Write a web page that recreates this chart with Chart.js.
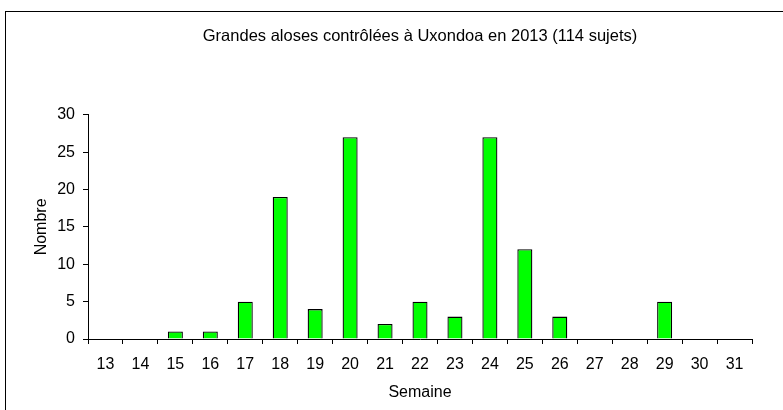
<!DOCTYPE html>
<html>
<head>
<meta charset="utf-8">
<script src="https://cdn.jsdelivr.net/npm/chart.js@4/dist/chart.umd.min.js"></script>
<style>
  html, body { margin: 0; padding: 0; background: #fff; }
  .wrap { position: relative; width: 783px; height: 410px; overflow: hidden; }
  .frame { position: absolute; left: 5px; top: 11px; width: 820px; height: 440px;
           border-left: 1px solid #000; border-top: 1px solid #000; }
  canvas { position: absolute; left: 0; top: 0; }
</style>
</head>
<body>
<div class="wrap">
  <div class="frame"></div>
  <canvas id="chart" width="783" height="410"></canvas>
</div>
<script>
// data
const TITLE = 'Grandes aloses contrôlées à Uxondoa en 2013 (114 sujets)';
const WEEKS = ['13','14','15','16','17','18','19','20','21','22','23','24','25','26','27','28','29','30','31'];
const COUNTS = [0, 0, 1, 1, 5, 19, 4, 27, 2, 5, 3, 27, 12, 3, 0, 0, 5, 0, 0];
const Y_TICKS = [0, 5, 10, 15, 20, 25, 30];

const FONT = 'Liberation Sans, Arial, sans-serif';

new Chart(document.getElementById('chart'), {
  type: 'bar',
  data: {
    labels: WEEKS,
    datasets: [{
      data: COUNTS,
      backgroundColor: '#00FF00',
      borderColor: '#000',
      borderWidth: 1.3,
      categoryPercentage: 1,
      barPercentage: 0.43,
    }],
  },
  options: {
    responsive: false,
    animation: false,
    devicePixelRatio: 1,
    layout: { padding: { left: 30, right: 31, top: 0, bottom: 0 } },
    plugins: {
      legend: { display: false },
      tooltip: { enabled: false },
      title: {
        display: true,
        text: TITLE,
        fullSize: false,
        color: '#000',
        font: { family: FONT, size: 16.5, weight: 'normal' },
        padding: { top: 27, bottom: 68 },
      },
    },
    scales: {
      x: {
        grid: { drawOnChartArea: false, drawTicks: true, tickLength: 5, color: '#000', offset: true },
        border: { color: '#000', width: 1 },
        ticks: { color: '#000', font: { family: FONT, size: 16 }, padding: 11, maxRotation: 0 },
        title: { display: true, text: 'Semaine', color: '#000', font: { family: FONT, size: 16 }, padding: { top: 4, bottom: 8 } },
        afterFit: s => { s.height = 71; },
      },
      y: {
        min: 0,
        max: 30,
        afterBuildTicks: s => { s.ticks = Y_TICKS.map(v => ({ value: v })); },
        grid: { drawOnChartArea: false, drawTicks: true, tickLength: 5, color: '#000' },
        border: { color: '#000', width: 1 },
        ticks: { color: '#000', font: { family: FONT, size: 16 }, padding: 8 },
        title: { display: true, text: 'Nombre', color: '#000', font: { family: FONT, size: 16 }, padding: { top: 2, bottom: 0 } },
        afterFit: s => { s.width = 58; },
      },
    },
  },
});
</script>
</body>
</html>
